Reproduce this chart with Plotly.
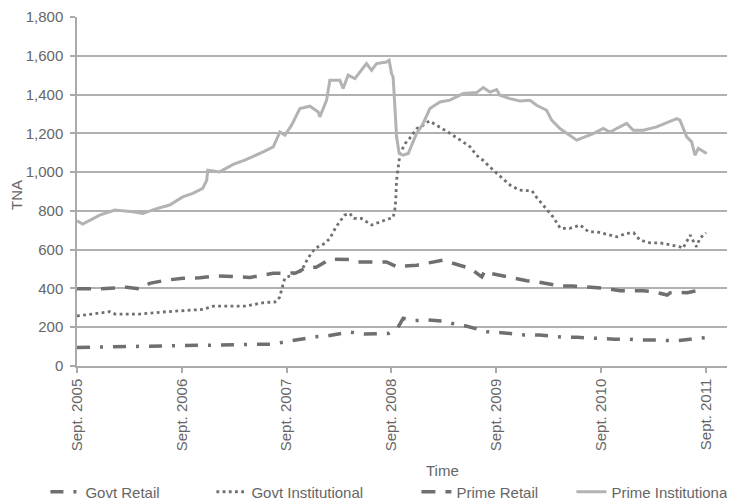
import plotly.graph_objects as go

# ---- data (x in decimal years, y = TNA) ----
tick_years = [2005.667, 2006.667, 2007.667, 2008.667, 2009.667, 2010.667, 2011.667]
tick_labels = ["Sept. 2005", "Sept. 2006", "Sept. 2007", "Sept. 2008",
               "Sept. 2009", "Sept. 2010", "Sept. 2011"]

prime_inst_x = [2005.667, 2005.721, 2005.884, 2006.027, 2006.199, 2006.294, 2006.428, 2006.552,
                2006.676, 2006.772, 2006.867, 2006.905, 2006.915, 2007.029, 2007.157, 2007.268,
                2007.444, 2007.540, 2007.604, 2007.651, 2007.715, 2007.794, 2007.890, 2007.969,
                2007.985, 2008.049, 2008.080, 2008.176, 2008.207, 2008.255, 2008.319, 2008.430,
                2008.478, 2008.526, 2008.621, 2008.646, 2008.669, 2008.684, 2008.701, 2008.717,
                2008.742, 2008.780, 2008.828, 2008.908, 2008.971, 2009.035, 2009.131, 2009.226,
                2009.353, 2009.481, 2009.544, 2009.608, 2009.672, 2009.703, 2009.799, 2009.894,
                2009.990, 2010.054, 2010.149, 2010.197, 2010.276, 2010.372, 2010.436, 2010.515,
                2010.594, 2010.690, 2010.754, 2010.818, 2010.913, 2010.976, 2011.072, 2011.200,
                2011.295, 2011.391, 2011.422, 2011.486, 2011.533, 2011.565, 2011.597, 2011.644,
                2011.677]
prime_inst_y = [749, 732, 778, 804, 795, 787, 812, 830,
                872, 890, 916, 958, 1010, 1001, 1040, 1062,
                1104, 1130, 1207, 1190, 1242, 1328, 1340, 1310,
                1285, 1371, 1474, 1474, 1431, 1500, 1482, 1560,
                1525, 1560, 1568, 1577, 1508, 1491, 1336, 1182,
                1096, 1087, 1096, 1199, 1251, 1328, 1362, 1371,
                1405, 1410, 1436, 1413, 1426, 1396, 1379, 1367,
                1371, 1345, 1319, 1268, 1225, 1190, 1165, 1182,
                1199, 1225, 1207, 1225, 1251, 1216, 1216, 1233,
                1254, 1276, 1268, 1182, 1156, 1087, 1122, 1104,
                1096]

govt_inst_x = [2005.667, 2005.98, 2006.03, 2006.27, 2006.52, 2006.77, 2006.87, 2006.97,
               2007.16, 2007.28, 2007.44, 2007.57, 2007.60, 2007.63, 2007.65, 2007.76,
               2007.81, 2007.87, 2007.94, 2008.03, 2008.08, 2008.14, 2008.22, 2008.27,
               2008.31, 2008.38, 2008.48, 2008.59, 2008.684, 2008.700, 2008.709, 2008.717,
               2008.731, 2008.75, 2008.80, 2008.84, 2008.91, 2008.97, 2009.03, 2009.10,
               2009.23, 2009.35, 2009.42, 2009.48, 2009.54, 2009.64, 2009.73, 2009.80,
               2009.89, 2010.01, 2010.05, 2010.13, 2010.21, 2010.28, 2010.37, 2010.47,
               2010.55, 2010.63, 2010.72, 2010.82, 2010.91, 2010.98, 2011.04, 2011.14,
               2011.23, 2011.33, 2011.42, 2011.45, 2011.52, 2011.56, 2011.58, 2011.61,
               2011.67]
govt_inst_y = [258, 280, 268, 268, 280, 289, 292, 309,
               309, 309, 326, 331, 354, 417, 452, 481,
               491, 555, 607, 632, 658, 718, 778, 787,
               761, 761, 727, 749, 766, 804, 855, 958,
               1027, 1096, 1148, 1173, 1225, 1242, 1264, 1242,
               1199, 1156, 1130, 1087, 1062, 1010, 967, 933,
               907, 903, 872, 821, 769, 710, 710, 727,
               692, 692, 680, 666, 684, 687, 649, 635,
               635, 624, 615, 607, 675, 632, 615, 658,
               687]

prime_retail_x = [2005.667, 2005.88, 2006.14, 2006.27, 2006.36, 2006.52, 2006.68, 2006.84,
                  2007.00, 2007.16, 2007.32, 2007.44, 2007.54, 2007.65, 2007.76, 2007.86,
                  2007.95, 2008.08, 2008.18, 2008.30, 2008.35, 2008.53, 2008.62, 2008.73,
                  2008.76, 2008.91, 2008.97, 2009.16, 2009.21, 2009.35, 2009.42, 2009.53,
                  2009.56, 2009.61, 2009.73, 2009.83, 2009.96, 2010.05, 2010.18, 2010.28,
                  2010.40, 2010.50, 2010.63, 2010.72, 2010.85, 2010.94, 2011.07, 2011.17,
                  2011.30, 2011.33, 2011.39, 2011.49, 2011.58, 2011.61]
prime_retail_y = [398, 398, 406, 398, 426, 443, 452, 455,
                  465, 462, 457, 469, 478, 478, 481, 509,
                  509, 551, 551, 549, 537, 537, 537, 509,
                  515, 520, 526, 546, 537, 515, 503, 460,
                  491, 478, 464, 452, 440, 435, 423, 412,
                  412, 409, 406, 400, 388, 388, 388, 383,
                  366, 378, 380, 378, 388, 400]

govt_retail_x = [2005.667, 2006.04, 2006.46, 2006.78, 2007.16, 2007.35, 2007.54, 2007.70,
                 2007.86, 2007.95, 2008.06, 2008.21, 2008.27, 2008.41, 2008.56, 2008.64,
                 2008.73, 2008.78, 2008.88, 2009.02, 2009.16, 2009.24, 2009.38, 2009.50,
                 2009.58, 2009.72, 2009.86, 2009.94, 2010.08, 2010.21, 2010.31, 2010.44,
                 2010.59, 2010.66, 2010.80, 2010.94, 2011.04, 2011.17, 2011.31, 2011.39,
                 2011.52, 2011.66]
govt_retail_y = [96, 99, 103, 106, 108, 111, 113, 129,
                 142, 151, 155, 172, 175, 165, 165, 168,
                 199, 246, 234, 237, 232, 220, 206, 189,
                 177, 172, 163, 160, 160, 155, 148, 148,
                 143, 141, 138, 138, 134, 134, 130, 130,
                 138, 146]

TEXT = "#666666"
FONT = "Liberation Sans, Arial, Helvetica, sans-serif"

fig = go.Figure()
fig.add_trace(go.Scatter(x=govt_retail_x, y=govt_retail_y, mode="lines", name="Govt Retail",
                         line=dict(color="#6f6f6f", width=3.5, dash="13px,10px,3px,10px"),
                         legendwidth=121))
fig.add_trace(go.Scatter(x=govt_inst_x, y=govt_inst_y, mode="lines", name="Govt Institutional",
                         line=dict(color="#6f6f6f", width=2.8, dash="2.8px,3.4px"),
                         legendwidth=160))
fig.add_trace(go.Scatter(x=prime_retail_x, y=prime_retail_y, mode="lines", name="Prime Retail",
                         line=dict(color="#6f6f6f", width=3.5, dash="14px,10px"),
                         legendwidth=110))
fig.add_trace(go.Scatter(x=prime_inst_x, y=prime_inst_y, mode="lines", name="Prime Institutional",
                         line=dict(color="#b3b3b3", width=3)))

# page body has an 8px default margin, so the figure is sized/offset to compensate
fig.update_layout(
    width=727, height=494,
    paper_bgcolor="white", plot_bgcolor="white",
    margin=dict(l=69, r=0, t=9, b=136, autoexpand=False),
    font=dict(family=FONT, size=15, color=TEXT),
    showlegend=True,
    legend=dict(orientation="h", x=-0.048, xanchor="left", y=-0.361, yanchor="middle",
                font=dict(size=15, color=TEXT), bgcolor="rgba(0,0,0,0)", itemwidth=30,
                traceorder="normal"),
    xaxis=dict(range=[2005.667, 2011.947], tickmode="array", tickvals=tick_years,
               ticktext=tick_labels, tickangle=-90, ticks="outside", ticklen=5,
               tickcolor="#aaaaaa", tickwidth=1.5, showgrid=False, zeroline=False,
               showline=True, linecolor="#aaaaaa", linewidth=1.5,
               tickfont=dict(size=15, color=TEXT)),
    yaxis=dict(range=[0, 1800], dtick=200, tickformat=",", ticks="outside", ticklen=5,
               tickcolor="#aaaaaa", tickwidth=1.5, showgrid=True, gridcolor="#b0b0b0",
               gridwidth=1.5, zeroline=False, showline=True, linecolor="#aaaaaa",
               linewidth=1.5, ticklabelstandoff=4, tickfont=dict(size=15, color=TEXT)),
    annotations=[
        dict(text="Time", xref="paper", yref="paper", x=0.556, y=0, xanchor="center",
             yanchor="middle", yshift=-104, showarrow=False, font=dict(size=15, color=TEXT)),
        dict(text="TNA", xref="paper", yref="paper", x=0, y=0.49, xanchor="center",
             yanchor="middle", xshift=-60, textangle=-90, showarrow=False,
             font=dict(size=15, color=TEXT)),
    ],
)

fig.write_html("out.html")
